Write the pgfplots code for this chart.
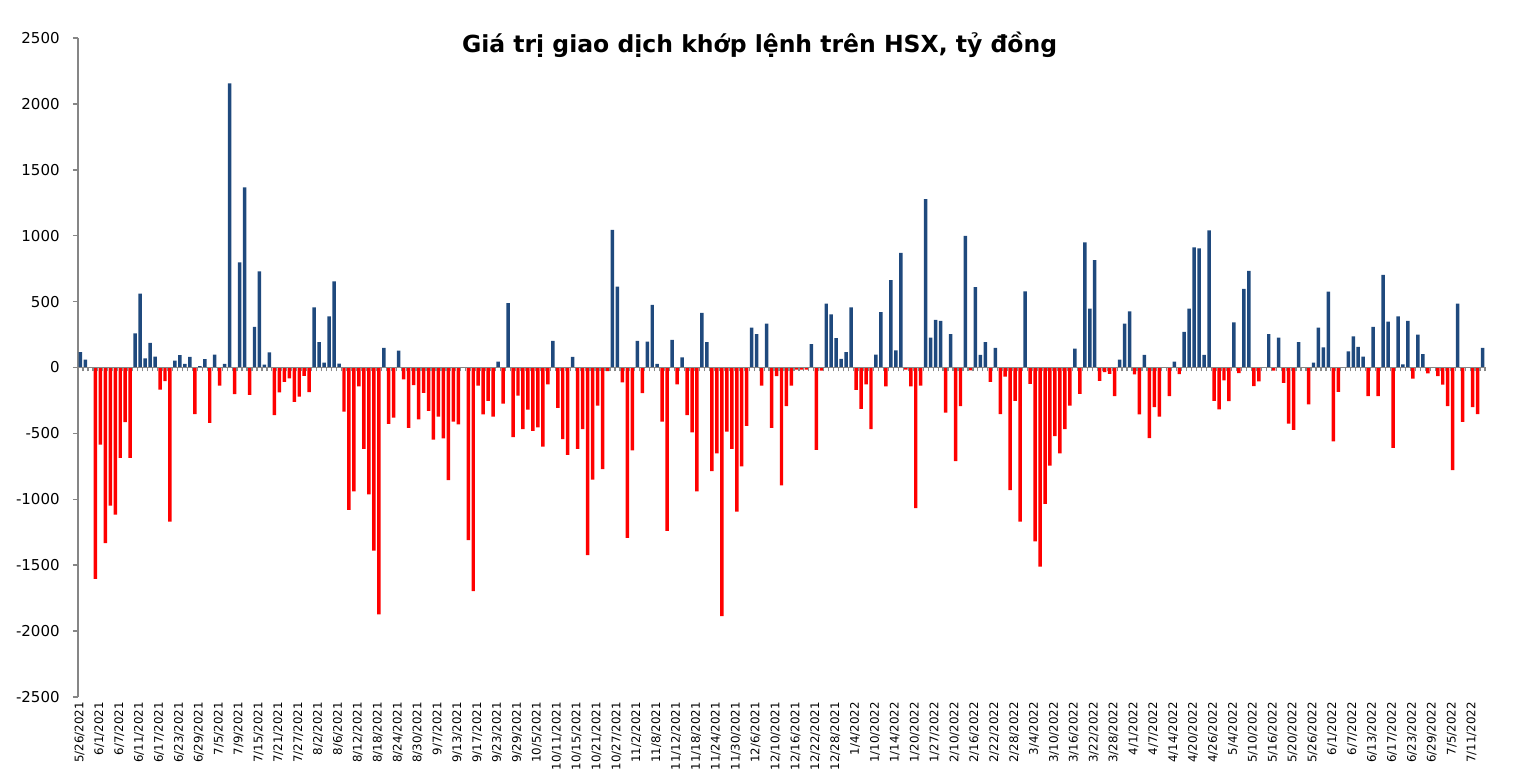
\documentclass[border=0pt]{standalone}
\usepackage{pgfplots}
\pgfplotsset{compat=1.18}
\usepackage{pgfplotstable}
\usepackage{fontspec}
\setmainfont{DejaVu Sans}
\definecolor{barblue}{RGB}{31,73,125}
\definecolor{barred}{RGB}{255,0,0}
\definecolor{axgray}{RGB}{134,134,134}
\pgfplotstableread[row sep=\\]{
x y\\
0 117\\ 1 59\\ 2 0\\ 3 -1604\\ 4 -585\\ 5 -1333\\ 6 -1048\\ 7 -1117\\ 8 -686\\ 9 -415\\
10 -686\\ 11 258\\ 12 561\\ 13 69\\ 14 186\\ 15 82\\ 16 -168\\ 17 -104\\ 18 -1170\\ 19 53\\
20 93\\ 21 27\\ 22 80\\ 23 -354\\ 24 10\\ 25 64\\ 26 -420\\ 27 98\\ 28 -138\\ 29 27\\
30 2155\\ 31 -202\\ 32 798\\ 33 1367\\ 34 -207\\ 35 309\\ 36 729\\ 37 21\\ 38 114\\ 39 -362\\
40 -189\\ 41 -109\\ 42 -82\\ 43 -261\\ 44 -221\\ 45 -64\\ 46 -186\\ 47 457\\ 48 192\\ 49 37\\
50 388\\ 51 654\\ 52 29\\ 53 -335\\ 54 -1080\\ 55 -939\\ 56 -144\\ 57 -617\\ 58 -963\\ 59 -1389\\
60 -1873\\ 61 149\\ 62 -428\\ 63 -380\\ 64 128\\ 65 -90\\ 66 -458\\ 67 -133\\ 68 -394\\ 69 -192\\
70 -330\\ 71 -548\\ 72 -372\\ 73 -537\\ 74 -854\\ 75 -410\\ 76 -431\\ 77 0\\ 78 -1309\\ 79 -1697\\
80 -138\\ 81 -356\\ 82 -253\\ 83 -372\\ 84 45\\ 85 -274\\ 86 489\\ 87 -529\\ 88 -213\\ 89 -468\\
90 -319\\ 91 -481\\ 92 -455\\ 93 -601\\ 94 -128\\ 95 202\\ 96 -306\\ 97 -543\\ 98 -662\\ 99 80\\
100 -617\\ 101 -468\\ 102 -1423\\ 103 -851\\ 104 -290\\ 105 -771\\ 106 -27\\ 107 1045\\ 108 614\\ 109 -112\\
110 -1293\\ 111 -628\\ 112 202\\ 113 -194\\ 114 197\\ 115 476\\ 116 27\\ 117 -410\\ 118 -1240\\ 119 210\\
120 -128\\ 121 77\\ 122 -362\\ 123 -492\\ 124 -939\\ 125 415\\ 126 192\\ 127 -787\\ 128 -652\\ 129 -1886\\
130 -487\\ 131 -617\\ 132 -1093\\ 133 -750\\ 134 -442\\ 135 303\\ 136 253\\ 137 -138\\ 138 333\\ 139 -458\\
140 -66\\ 141 -894\\ 142 -293\\ 143 -138\\ 144 -16\\ 145 -16\\ 146 -16\\ 147 178\\ 148 -625\\ 149 -24\\
150 484\\ 151 404\\ 152 223\\ 153 66\\ 154 117\\ 155 457\\ 156 -170\\ 157 -314\\ 158 -128\\ 159 -468\\
160 98\\ 161 420\\ 162 -144\\ 163 662\\ 164 130\\ 165 870\\ 166 -16\\ 167 -144\\ 168 -1067\\ 169 -138\\
170 1277\\ 171 226\\ 172 362\\ 173 354\\ 174 -343\\ 175 253\\ 176 -710\\ 177 -293\\ 178 998\\ 179 -21\\
180 609\\ 181 96\\ 182 192\\ 183 -109\\ 184 149\\ 185 -354\\ 186 -69\\ 187 -931\\ 188 -253\\ 189 -1170\\
190 577\\ 191 -125\\ 192 -1319\\ 193 -1511\\ 194 -1035\\ 195 -745\\ 196 -521\\ 197 -652\\ 198 -468\\ 199 -290\\
200 144\\ 201 -200\\ 202 950\\ 203 447\\ 204 814\\ 205 -101\\ 206 -35\\ 207 -48\\ 208 -218\\ 209 59\\
210 333\\ 211 426\\ 212 -53\\ 213 -356\\ 214 96\\ 215 -535\\ 216 -301\\ 217 -372\\ 218 0\\ 219 -218\\
220 45\\ 221 -50\\ 222 271\\ 223 447\\ 224 912\\ 225 904\\ 226 96\\ 227 1040\\ 228 -253\\ 229 -317\\
230 -98\\ 231 -255\\ 232 343\\ 233 -43\\ 234 596\\ 235 734\\ 236 -141\\ 237 -106\\ 238 0\\ 239 253\\
240 -24\\ 241 226\\ 242 -117\\ 243 -425\\ 244 -473\\ 245 192\\ 246 0\\ 247 -279\\ 248 37\\ 249 303\\
250 152\\ 251 575\\ 252 -561\\ 253 -184\\ 254 0\\ 255 122\\ 256 237\\ 257 157\\ 258 82\\ 259 -218\\
260 309\\ 261 -218\\ 262 702\\ 263 348\\ 264 -609\\ 265 388\\ 266 24\\ 267 354\\ 268 -85\\ 269 250\\
270 101\\ 271 -45\\ 272 0\\ 273 -66\\ 274 -130\\ 275 -293\\ 276 -779\\ 277 484\\ 278 -412\\ 279 0\\
280 -301\\ 281 -354\\ 282 149\\
}\datatable

\begin{document}
\begin{tikzpicture}
\path[use as bounding box] (-39pt,-37.5pt) rectangle (721.5pt,348.5pt);
\begin{axis}[
  at={(0,0)}, anchor=south west,
  width=703.5pt, height=329.5pt, scale only axis,
  xmin=-0.5, xmax=282.5, ymin=-2500, ymax=2500,
  separate axis lines,
  axis x line*=bottom, axis y line*=left,
  x axis line style={draw=none},
  y axis line style={-, axgray, line width=0.75pt},
  xtick={0,4,...,280},
  xticklabels={5/26/2021,6/1/2021,6/7/2021,6/11/2021,6/17/2021,6/23/2021,6/29/2021,7/5/2021,7/9/2021,7/15/2021,7/21/2021,7/27/2021,8/2/2021,8/6/2021,8/12/2021,8/18/2021,8/24/2021,8/30/2021,9/7/2021,9/13/2021,9/17/2021,9/23/2021,9/29/2021,10/5/2021,10/11/2021,10/15/2021,10/21/2021,10/27/2021,11/2/2021,11/8/2021,11/12/2021,11/18/2021,11/24/2021,11/30/2021,12/6/2021,12/10/2021,12/16/2021,12/22/2021,12/28/2021,1/4/2022,1/10/2022,1/14/2022,1/20/2022,1/27/2022,2/10/2022,2/16/2022,2/22/2022,2/28/2022,3/4/2022,3/10/2022,3/16/2022,3/22/2022,3/28/2022,4/1/2022,4/7/2022,4/14/2022,4/20/2022,4/26/2022,5/4/2022,5/10/2022,5/16/2022,5/20/2022,5/26/2022,6/1/2022,6/7/2022,6/13/2022,6/17/2022,6/23/2022,6/29/2022,7/5/2022,7/11/2022},
  xtick style={draw=none},
  xticklabel style={rotate=90, anchor=east, inner sep=0pt, yshift=0.5pt, font=\fontsize{5.9}{7}\selectfont},
  ytick={-2500,-2000,...,2500},
  yticklabels={-2500,-2000,-1500,-1000,-500,0,500,1000,1500,2000,2500},
  ytick style={axgray, line width=0.75pt},
  tick align=outside, major tick length=2.5pt,
  yticklabel style={font=\fontsize{7.5}{9}\selectfont, inner sep=0pt, xshift=-6.5pt},
  ybar, bar width=0.7, bar shift=0pt,
  clip=false,
]
\addplot[fill=barblue, draw=none, restrict y to domain=0:3000] table[x=x,y=y]{\datatable};
\addplot[fill=barred, draw=none, restrict y to domain=-3000:0] table[x=x,y=y]{\datatable};
\node[font=\bfseries] at (rel axis cs:0.4844,0.9894) {\resizebox{297.5pt}{!}{Giá trị giao dịch khớp lệnh trên HSX, tỷ đồng}};
\end{axis}
\begin{axis}[
  at={(0,0)}, anchor=south west,
  width=703.5pt, height=329.5pt, scale only axis,
  xmin=-0.5, xmax=282.5, ymin=-2500, ymax=2500,
  axis x line=middle, axis y line=none,
  axis line style={-, axgray, line width=0.75pt},
  xtick={-0.5,0.5,...,282.5}, xticklabel=\empty,
  xtick align=outside, major tick length=2pt,
  xtick style={axgray, line width=0.6pt},
  ytick=\empty,
]
\end{axis}
\end{tikzpicture}
\end{document}
